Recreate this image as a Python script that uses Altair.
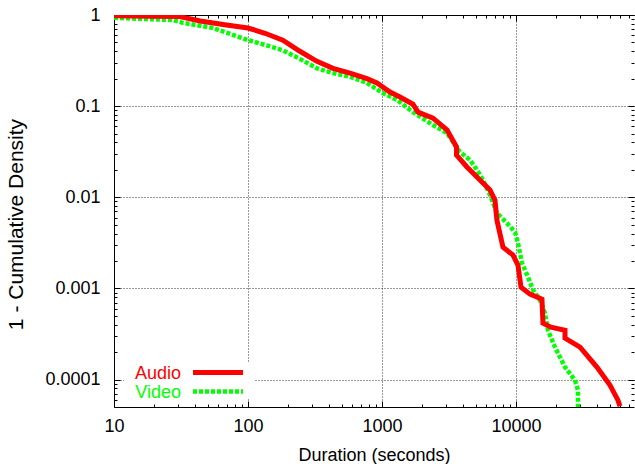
import altair as alt
import pandas as pd

# ---- data ----
series_names = ["Audio", "Video"]
series_colors = ["#ff0000", "#00ff00"]

audio_duration = [10, 18.6, 31, 44, 67, 100, 134, 182, 244, 327, 431, 577, 772, 918,
                  1148, 1362, 1703, 1857, 2403, 3055, 3600, 3600, 4306, 5383, 6397,
                  6970, 7211, 7995, 9506, 10350, 10900, 12710, 15630, 15900, 18230,
                  23220, 23220, 30060, 40180, 50240, 57680, 59700]
audio_ccdf = [0.98, 0.97, 0.96, 0.86, 0.78, 0.72, 0.63, 0.53, 0.40, 0.31, 0.26, 0.23,
              0.20, 0.18, 0.143, 0.126, 0.105, 0.086, 0.074, 0.055, 0.0356, 0.029,
              0.0215, 0.0155, 0.0120, 0.0093, 0.0056, 0.00284, 0.00232, 0.0018,
              0.00103, 0.000865, 0.000763, 0.000416, 0.000376, 0.000348, 0.000285,
              0.000227, 0.000137, 0.0000869, 0.0000594, 0.0000510]

video_duration = [10, 18.6, 27.5, 32.7, 54.8, 100, 134, 182, 244, 327, 431, 577, 772,
                  1016, 1294, 1703, 2403, 3055, 3388, 3820, 4539, 5119, 5675, 6397,
                  7211, 8570, 9840, 10350, 11090, 12300, 13400, 15110, 16450, 17330,
                  19540, 23220, 27540, 29030, 29030]
video_ccdf = [0.93, 0.90, 0.88, 0.82, 0.72, 0.53, 0.47, 0.41, 0.33, 0.26, 0.23, 0.21,
              0.18, 0.139, 0.117, 0.086, 0.062, 0.0507, 0.0404, 0.0313, 0.0256, 0.0199,
              0.0155, 0.0106, 0.0067, 0.0052, 0.00415, 0.00314, 0.0019, 0.00133,
              0.00096, 0.000744, 0.000536, 0.000348, 0.000227, 0.000137, 0.0000985,
              0.0000765, 0.00005]

x_major = [10, 100, 1000, 10000]
x_minor = [20, 30, 40, 50, 60, 70, 80, 90,
           200, 300, 400, 500, 600, 700, 800, 900,
           2000, 3000, 4000, 5000, 6000, 7000, 8000, 9000,
           20000, 30000, 40000, 50000, 60000, 70000]
y_major = [1, 0.1, 0.01, 0.001, 0.0001]
y_minor = [0.00006, 0.00007, 0.00008, 0.00009,
           0.0002, 0.0003, 0.0004, 0.0005, 0.0006, 0.0007, 0.0008, 0.0009,
           0.002, 0.003, 0.004, 0.005, 0.006, 0.007, 0.008, 0.009,
           0.02, 0.03, 0.04, 0.05, 0.06, 0.07, 0.08, 0.09,
           0.2, 0.3, 0.4, 0.5, 0.6, 0.7, 0.8, 0.9]

x_title = "Duration (seconds)"
y_title = "1 - Cumulative Density"

# ---- table ----
df = pd.concat([
    pd.DataFrame({"series": "Audio", "duration": audio_duration, "ccdf": audio_ccdf,
                  "idx": range(len(audio_duration))}),
    pd.DataFrame({"series": "Video", "duration": video_duration, "ccdf": video_ccdf,
                  "idx": range(len(video_duration))}),
], ignore_index=True)

FONT = "Liberation Sans"
x_scale = alt.Scale(type="log", domain=[10, 76000], nice=False)
y_scale = alt.Scale(type="log", domain=[0.00005, 1], nice=False)


def axis_layer(x_axis, y_axis):
    return alt.Chart(df).mark_point(opacity=0).encode(
        x=alt.X("duration:Q", scale=x_scale, axis=x_axis),
        y=alt.Y("ccdf:Q", scale=y_scale, axis=y_axis),
    )


def tick_axis(orient, values, size, labels=False, **kw):
    base = dict(orient=orient, values=values, offset=-size, tickSize=size,
                ticks=True, tickColor="black", tickWidth=1, domain=False,
                grid=False, labels=labels)
    if not labels:
        base["title"] = None
    base.update(kw)
    return alt.Axis(**base)


grid_style = dict(grid=True, gridColor="#333333", gridDash=[1, 2], gridWidth=1,
                  ticks=False, labels=False, domain=True, domainColor="black",
                  domainWidth=1, title=None)

# grid + left/bottom border
g1 = axis_layer(alt.Axis(orient="bottom", values=x_major, **grid_style),
                alt.Axis(orient="left", values=y_major, **grid_style))
# top border
g2 = axis_layer(alt.Axis(orient="top", labels=False, ticks=False, grid=False,
                         domain=True, domainColor="black", domainWidth=1, title=None),
                None)

label_kw = dict(labelFont=FONT, labelFontSize=18, labelColor="black", format="~g",
                labelFlush=False, labelOverlap=False, titleFont=FONT,
                titleFontWeight="normal", titleColor="black")

# major ticks + labels (bottom / left)
la = axis_layer(
    tick_axis("bottom", x_major, 6, labels=True, labelPadding=10, title=x_title,
              titleFontSize=18, titlePadding=11, minExtent=0, **label_kw),
    tick_axis("left", y_major, 6, labels=True, labelPadding=14, title=y_title,
              titleFontSize=21, titleX=-94, titleY=209, minExtent=0, **label_kw),
)
# minor ticks bottom / left
lb = axis_layer(tick_axis("bottom", x_minor, 3), tick_axis("left", y_minor, 3))
# major ticks top / right
lc = axis_layer(tick_axis("top", x_major, 6), tick_axis("right", y_major, 6))
# minor ticks top / right
ld = axis_layer(tick_axis("top", x_minor, 3), tick_axis("right", y_minor, 3))

color_scale = alt.Scale(domain=series_names, range=series_colors)

audio_line = alt.Chart(df).transform_filter(alt.datum.series == "Audio").mark_line(
    strokeWidth=5, clip=True, strokeJoin="miter").encode(
    x=alt.X("duration:Q", scale=x_scale, axis=None),
    y=alt.Y("ccdf:Q", scale=y_scale, axis=None),
    color=alt.Color("series:N", scale=color_scale, legend=None),
    order="idx:Q",
)
video_line = alt.Chart(df).transform_filter(alt.datum.series == "Video").mark_line(
    strokeWidth=4.5, clip=True, strokeDash=[4, 2], strokeCap="butt").encode(
    x=alt.X("duration:Q", scale=x_scale, axis=None),
    y=alt.Y("ccdf:Q", scale=y_scale, axis=None),
    color=alt.Color("series:N", scale=color_scale, legend=None),
    order="idx:Q",
)

# ---- key ----
key_df = pd.DataFrame({"series": series_names, "color": series_colors})
key_bg = alt.Chart(key_df.head(1)).mark_rect(color="white").encode(
    x=alt.value(10), x2=alt.value(140), y=alt.value(348), y2=alt.value(384))

key_layers = [key_bg]
for i, (name, col) in enumerate(zip(series_names, series_colors)):
    row = key_df.iloc[[i]]
    ty = 364 + 19 * i
    ly = 357.5 + 19 * i
    key_layers.append(alt.Chart(row).mark_text(
        align="right", baseline="alphabetic", font=FONT, fontSize=18, color=col
    ).encode(text="series:N", x=alt.value(67), y=alt.value(ty)))
    rule_kw = dict(color=col, strokeWidth=5 if name == "Audio" else 4.5)
    if name == "Video":
        rule_kw.update(strokeDash=[4, 2], strokeCap="butt")
    key_layers.append(alt.Chart(row).mark_rule(**rule_kw).encode(
        x=alt.value(79), x2=alt.value(129), y=alt.value(ly)))

chart = alt.layer(g1, g2, la, lb, lc, ld, video_line, audio_line, *key_layers).resolve_axis(
    x="independent", y="independent"
).properties(
    width=520, height=392, autosize="none",
    padding={"left": 114, "top": 15, "right": 1, "bottom": 57},
    background="white",
).configure_view(stroke=None)

chart.save("out.html", embed_options={"renderer": "svg", "actions": False})
